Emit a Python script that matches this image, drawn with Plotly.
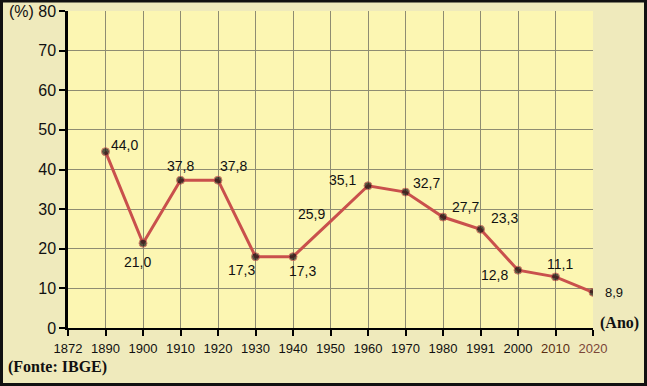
import plotly.graph_objects as go

# Data
categories = ["1872", "1890", "1900", "1910", "1920", "1930", "1940", "1950",
              "1960", "1970", "1980", "1991", "2000", "2010", "2020"]
years = ["1890", "1900", "1910", "1920", "1930", "1940", "1950",
         "1960", "1970", "1980", "1991", "2000", "2010", "2020"]
values = [44.5, 21.4, 37.3, 37.3, 18.0, 18.0, 26.9, 35.9, 34.3, 28.0, 24.9, 14.6, 12.9, 9.0]
labels = ["44,0", "21,0", "37,8", "37,8", "17,3", "17,3", "25,9",
          "35,1", "32,7", "27,7", "23,3", "12,8", "11,1", "8,9"]
y_ticks = [0, 10, 20, 30, 40, 50, 60, 70, 80]

# Style
marker_sizes = [8, 8, 8, 8, 8, 8, 0, 8, 8, 8, 8, 8, 8, 8]
label_shift = [(19, 7), (-6, -19), (0, 14), (15, 14), (-14, -13), (9, -14), (-19, 7),
               (-26, 6), (21, 9), (22, 10), (24, 11), (-24, -5), (4, 13), (21, 0)]
tick_colors = ["#111"] * 13 + ["#5a2e12", "#7a4638"]

fig = go.Figure()
fig.add_trace(go.Scatter(
    x=years, y=values, mode="lines+markers",
    line=dict(color="#c9504c", width=3),
    marker=dict(color="#111111", size=marker_sizes),
    hoverinfo="skip", showlegend=False,
))

for yr, v, t, (dx, dy) in zip(years, values, labels, label_shift):
    fig.add_annotation(x=categories.index(yr), y=v, text=t, showarrow=False,
                       xshift=dx, yshift=dy,
                       font=dict(size=13 if t == "8,9" else 14, color="#111",
                                 family="Liberation Sans, Arial, sans-serif"))

ticktext = [f"<span style='color:{c}'>{cat}</span>" for cat, c in zip(categories, tick_colors)]

fig.update_xaxes(
    type="category", categoryorder="array", categoryarray=categories,
    range=[0, 14], tickvals=categories, ticktext=ticktext,
    showgrid=True, gridcolor="#8e8c72", gridwidth=1,
    showline=True, linecolor="#000", linewidth=2,
    ticks="outside", ticklen=6, tickcolor="#000", tickwidth=1.5,
    tickfont=dict(size=13, family="Liberation Sans, Arial, sans-serif", color="#111"),
    ticklabelstandoff=1, fixedrange=True, automargin=False,
)
fig.update_yaxes(
    range=[0, 80], tickvals=y_ticks,
    showgrid=True, gridcolor="#8e8c72", gridwidth=1,
    showline=True, linecolor="#000", linewidth=2.5, zeroline=False,
    ticks="outside", ticklen=6, tickcolor="#000", tickwidth=1.5,
    tickfont=dict(size=16, family="Liberation Sans, Arial, sans-serif", color="#111"),
    fixedrange=True, automargin=False,
)

# Text outside plot area
fig.add_annotation(xref="paper", yref="paper", x=-0.0895, y=0.997, text="(%)",
                   showarrow=False, xanchor="center", yanchor="middle",
                   font=dict(size=16, family="Liberation Sans, Arial, sans-serif", color="#111"))
fig.add_annotation(xref="paper", yref="paper", x=1.01, y=0.015, text="<b>(Ano)</b>",
                   showarrow=False, xanchor="left", yanchor="middle",
                   font=dict(size=16, family="Liberation Serif, Times New Roman, serif", color="#111"))
fig.add_annotation(xref="paper", yref="paper", x=-0.118, y=-0.123, text="<b>(Fonte: IBGE)</b>",
                   showarrow=False, xanchor="left", yanchor="middle",
                   font=dict(size=16, family="Liberation Serif, Times New Roman, serif", color="#111"))

# Outer frame
W, H = 525, 317
fig.add_shape(type="rect", xref="paper", yref="paper",
              x0=-66.5 / W, x1=(647 - 68 - 1.5) / W,
              y0=-(386 - 328 - 1.5) / H, y1=(328 - 1) / H,
              line=dict(color="#111", width=3), layer="above")

fig.update_layout(
    width=647, height=386,
    margin=dict(l=68, r=54, t=11, b=58),
    paper_bgcolor="#efeabc",
    plot_bgcolor="#fcf6b2",
)

fig.write_html("out.html", config={"displayModeBar": False},
               post_script="document.body.style.margin='0';document.body.style.overflow='hidden';")
